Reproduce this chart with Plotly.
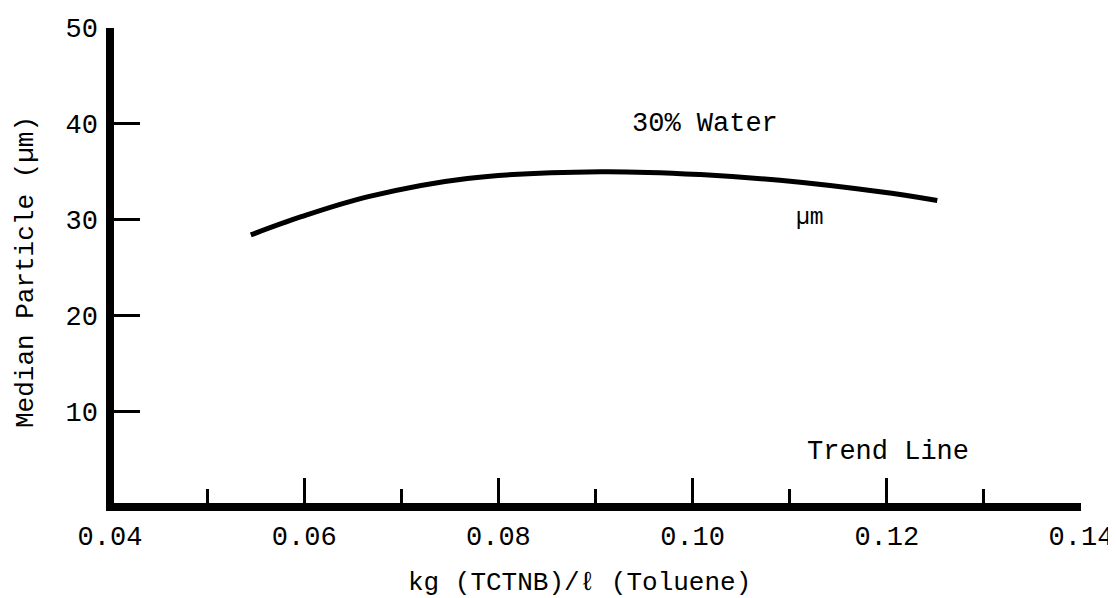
import plotly.graph_objects as go

# Trend line
conc = [0.0545, 0.0597, 0.0666, 0.0768, 0.0905, 0.1008, 0.1090, 0.1193, 0.1252]
size_um = [28.4, 30.3, 32.4, 34.3, 35.0, 34.7, 34.1, 32.9, 32.0]

x_ticks = [0.04, 0.06, 0.08, 0.10, 0.12, 0.14]
x_ticktext = ["0.04", "0.06", "0.08", "0.10", "0.12", "0.14"]
y_ticks = [10, 20, 30, 40, 50]
y_ticktext = ["10", "20", "30", "40", "50"]

FONT = "Liberation Mono"
FS = 27

fig = go.Figure()
fig.add_trace(go.Scatter(
    x=conc, y=size_um, mode="lines", line=dict(color="black", width=5, shape="spline"),
    showlegend=False, hoverinfo="skip"))

# heavy L-shaped axis frame
fig.add_shape(type="path", xref="x domain", yref="y domain",
              path="M 0,1 L 0,0 L 1,0", line=dict(color="black", width=8), layer="above")

# page body adds an 8px offset, so the figure is 8px smaller on each side
fig.update_layout(
    width=1108, height=590,
    margin=dict(l=102, r=35, t=20, b=91, autoexpand=False),
    paper_bgcolor="white", plot_bgcolor="white",
    font=dict(family=FONT, size=FS, color="black"),
    xaxis=dict(range=[0.04, 0.14], tickvals=x_ticks, ticktext=x_ticktext, automargin=False,
               showgrid=False, zeroline=False, showline=False,
               ticks="inside", ticklen=29, tickwidth=2.5, tickcolor="black", ticklabelstandoff=10,
               minor=dict(ticks="inside", ticklen=18, tickwidth=2.5, tickcolor="black", dtick=0.01, tick0=0.04, showgrid=False)),
    yaxis=dict(range=[0, 50], tickvals=y_ticks, ticktext=y_ticktext, automargin=False,
               showgrid=False, zeroline=False, showline=False,
               ticks="inside", ticklen=30, tickwidth=2.5, tickcolor="black", ticklabelstandoff=11),
    annotations=[
        dict(x=0.1013, y=40.0, text="30% Water", showarrow=False, font=dict(family=FONT, size=FS)),
        dict(x=0.1121, y=30.2, text="µm", showarrow=False, font=dict(family=FONT, size=23)),
        dict(x=0.1201, y=5.7, text="Trend Line", showarrow=False, font=dict(family=FONT, size=FS)),
        # axis titles
        dict(xref="paper", yref="paper", x=0.484, y=-0.1587, text="kg (TCTNB)/ℓ (Toluene)",
             showarrow=False, xanchor="center", yanchor="middle", font=dict(family=FONT, size=26)),
        dict(xref="paper", yref="paper", x=-0.0865, y=0.4906, text="Median Particle (µm)", textangle=-90,
             showarrow=False, xanchor="center", yanchor="middle", font=dict(family=FONT, size=26)),
    ],
)

fig.write_html("out.html")
